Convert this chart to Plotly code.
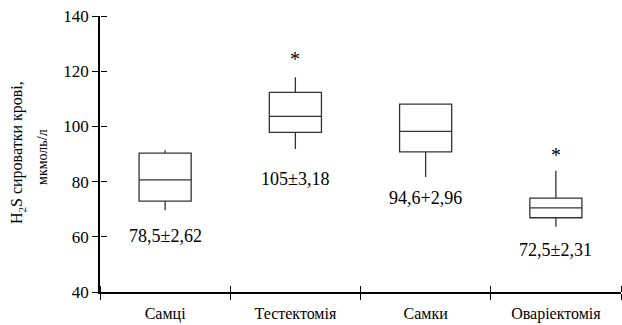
import plotly.graph_objects as go

categories = ["Самці", "Тестектомія", "Самки", "Оваріектомія"]
lower_whisker = [69.6, 91.8, 81.7, 63.6]
q1 = [72.9, 97.8, 90.8, 66.9]
median = [80.6, 103.6, 98.2, 70.5]
q3 = [90.3, 112.3, 108.1, 74.0]
upper_whisker = [91.4, 117.8, 108.1, 83.9]
value_labels = ["78,5±2,62", "105±3,18", "94,6+2,96", "72,5±2,31"]
label_y = [60.3, 81.0, 74.0, 55.2]
star_flags = [False, True, False, True]
star_y = [None, 124.6, None, 89.7]
y_ticks = [40, 60, 80, 100, 120, 140]

FONT = "Liberation Serif"
AX = "black"

fig = go.Figure()
fig.add_trace(go.Box(
    x=categories, q1=q1, median=median, q3=q3,
    lowerfence=lower_whisker, upperfence=upper_whisker,
    width=0.4, whiskerwidth=0, fillcolor="white",
    line=dict(color="#333333", width=1.3),
    boxpoints=False, showlegend=False, hoverinfo="skip",
))
# invisible trace for the inner-tick overlay axes
fig.add_trace(go.Scatter(x=categories, y=median, mode="markers",
                         marker=dict(opacity=0), xaxis="x2", yaxis="y2",
                         showlegend=False, hoverinfo="skip"))

for c, t, y in zip(categories, value_labels, label_y):
    fig.add_annotation(x=c, y=y, text=t, showarrow=False,
                       font=dict(family=FONT, size=18, color="black"))
for c, f, y in zip(categories, star_flags, star_y):
    if f:
        fig.add_annotation(x=c, y=y, text="*", showarrow=False,
                           font=dict(family=FONT, size=20, color="black"))

fig.add_annotation(xref="paper", yref="paper", x=-0.157, y=0.504, xanchor="center",
                   yanchor="middle", textangle=-90, showarrow=False,
                   text="H<sub>2</sub>S сироватки крові,",
                   font=dict(family=FONT, size=16, color="black"))
fig.add_annotation(xref="paper", yref="paper", x=-0.109, y=0.49, xanchor="center",
                   yanchor="middle", textangle=-90, showarrow=False,
                   text="мкмоль/л",
                   font=dict(family=FONT, size=14, color="black"))

fig.update_layout(
    width=622, height=325,
    margin=dict(l=100, r=1, t=16, b=33),
    paper_bgcolor="white", plot_bgcolor="white",
    xaxis=dict(type="category", categoryarray=categories, categoryorder="array",
               range=[-0.5, 3.5], tickson="boundaries", ticks="outside",
               ticklen=6, tickcolor=AX, tickwidth=1.2, ticklabelstandoff=6,
               showline=True, linecolor=AX, linewidth=1.5, showgrid=False,
               zeroline=False, tickfont=dict(family=FONT, size=16, color="black")),
    yaxis=dict(range=[40, 140], tickvals=y_ticks, ticks="outside", ticklen=6,
               tickcolor=AX, tickwidth=1.2, showline=True, linecolor=AX,
               linewidth=1.5, showgrid=False, zeroline=False, ticklabeloverflow="allow",
               tickfont=dict(family=FONT, size=17, color="black")),
    xaxis2=dict(type="category", categoryarray=categories, categoryorder="array",
                range=[-0.5, 3.5], tickson="boundaries", ticks="outside",
                ticklen=6, tickcolor=AX, tickwidth=1.2, overlaying="x",
                side="top", anchor="free", position=0,
                showticklabels=False, showgrid=False, zeroline=False, showline=False),
    yaxis2=dict(range=[40, 140], tickvals=y_ticks, ticks="outside", ticklen=6,
                tickcolor=AX, tickwidth=1.2, overlaying="y", side="right",
                anchor="free", position=0,
                showticklabels=False, showgrid=False, zeroline=False, showline=False),
)

fig.write_html("out.html", config={"displayModeBar": False},
               post_script="document.body.style.margin='0px';")
